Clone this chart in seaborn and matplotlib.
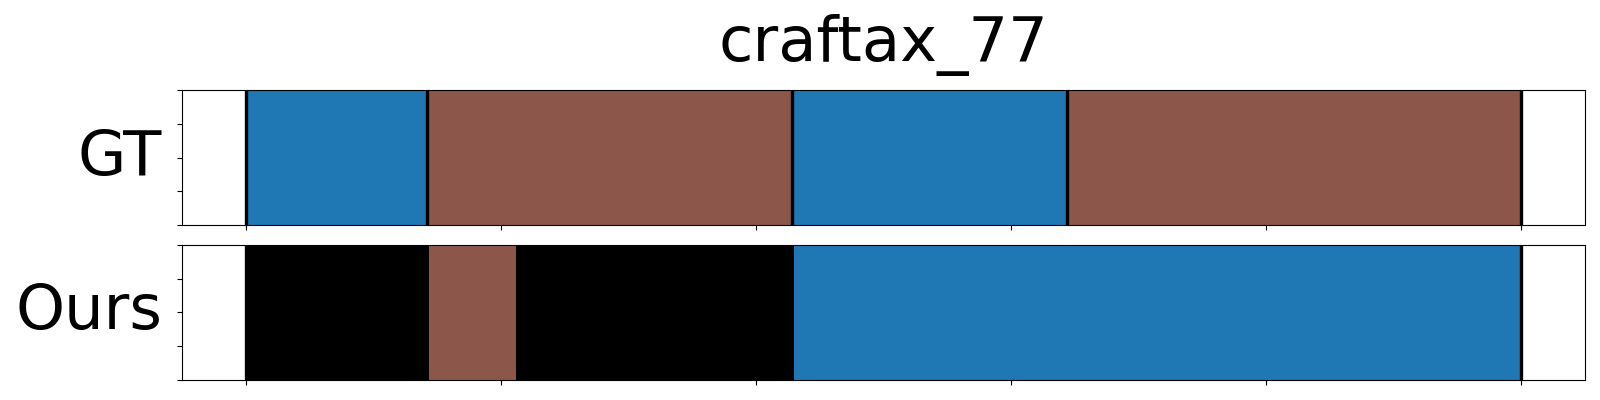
import matplotlib
matplotlib.use("Agg")
import matplotlib.pyplot as plt
import numpy as np
import seaborn as sns

sns.set_style("ticks", {"axes.edgecolor": "black", "xtick.color": "black",
                        "ytick.color": "black", "text.color": "black",
                        "axes.labelcolor": "black"})
plt.rcParams['font.family'] = ['DejaVu Sans']

title = "craftax_77"
n_frames = 500

# segments: start frame, end frame, class id (-1 = background / none)
gt_starts = [0, 71, 214, 322]
gt_ends = [71, 214, 322, 500]
gt_classes = [0, 5, 0, 5]
gt_bounds = [0, 71, 214, 322, 500]

ours_starts = [0, 72, 106, 215]
ours_ends = [72, 106, 215, 500]
ours_classes = [-1, 5, -1, 0]
ours_bounds = [0, 500]

palette = sns.color_palette("tab10")

def seg_color(c):
    return "black" if c < 0 else palette[c]

fig, axes = plt.subplots(2, 1, figsize=(16, 4), dpi=100, sharex=True)
fig.subplots_adjust(left=0.1136, right=0.9906, top=0.775, bottom=0.05, hspace=0.148)

rows = [
    ("GT", gt_starts, gt_ends, gt_classes, gt_bounds),
    ("Ours", ours_starts, ours_ends, ours_classes, ours_bounds),
]
for ax, (name, starts, ends, classes, bounds) in zip(axes, rows):
    starts = np.array(starts)
    widths = np.array(ends) - starts
    ax.barh([0.5] * len(starts), widths, left=starts, height=1.0,
            color=[seg_color(c) for c in classes], linewidth=0)
    for b in bounds:
        ax.axvline(b, color="black", linewidth=2.4)
    ax.set_ylim(0, 1)
    ax.set_xlim(-0.05 * n_frames, 1.05 * n_frames)
    ax.set_yticks(np.linspace(0, 1, 5))
    ax.set_xticks(np.arange(0, n_frames + 1, 100))
    ax.set_yticklabels([])
    ax.set_xticklabels([])
    ax.tick_params(length=3.5, width=0.8)
    for s in ax.spines.values():
        s.set_linewidth(0.8)
    ax.set_ylabel(name, rotation=0, fontsize=45, ha="right", va="center", labelpad=7)

axes[0].set_title(title, fontsize=45, pad=21)

plt.savefig("out.png")
